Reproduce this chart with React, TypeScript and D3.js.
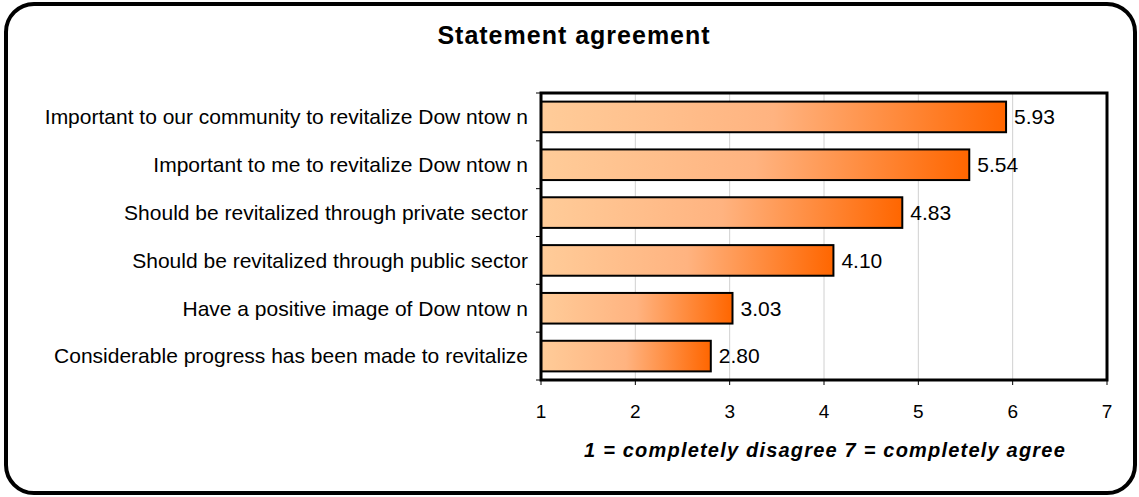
import React from "react";
import * as d3 from "d3";

const categories = [
  "Important to our community to revitalize Dow ntow n",
  "Important to me to revitalize Dow ntow n",
  "Should be revitalized through private sector",
  "Should be revitalized through public sector",
  "Have a positive image of Dow ntow n",
  "Considerable progress has been made to revitalize",
];
const values = [5.93, 5.54, 4.83, 4.1, 3.03, 2.8];
const xTicks = [1, 2, 3, 4, 5, 6, 7];
const title = "Statement agreement";
const xTitle = "1 = completely disagree 7 = completely agree";

export default function App() {
  const W = 1139, H = 497;
  const left = 541, right = 1107, top = 93, bottom = 380;
  const x = d3.scaleLinear().domain([1, 7]).range([left, right]);
  const y = d3.scaleBand().domain(categories).range([top, bottom]).paddingInner(0.36).paddingOuter(0.18);
  const font = "'Liberation Sans', Arial, sans-serif";
  const bandFull = (bottom - top) / categories.length;
  return (
    <svg width={W} height={H} style={{ position: "absolute", left: 0, top: 0 }}>
      <defs>
        <linearGradient id="barGrad" x1="0" x2="1" y1="0" y2="0">
          <stop offset="0%" stopColor="#FFCC99" />
          <stop offset="50%" stopColor="#FFB380" />
          <stop offset="100%" stopColor="#FF6600" />
        </linearGradient>
      </defs>
      <rect width={W} height={H} fill="#fff" />
      <rect x={6} y={4} width={1129} height={489} rx={28} ry={28} fill="#fff" stroke="#000" strokeWidth={4} />
      <text x={574} y={44} textAnchor="middle" fontFamily={font} fontWeight="bold" fontSize={25} letterSpacing={1}>{title}</text>
      {xTicks.map((t) => (
        <line key={"g" + t} x1={x(t)} x2={x(t)} y1={top} y2={bottom} stroke="#d0d0d0" strokeWidth={1} />
      ))}
      {categories.map((c, i) => (
        <line key={"ct" + i} x1={left - 5} x2={left} y1={top + i * bandFull} y2={top + i * bandFull} stroke="#000" strokeWidth={1} />
      ))}
      <line x1={left - 5} x2={left} y1={bottom} y2={bottom} stroke="#000" strokeWidth={1} />
      {xTicks.map((t) => (
        <line key={"xt" + t} x1={x(t)} x2={x(t)} y1={bottom} y2={bottom + 5} stroke="#000" strokeWidth={1} />
      ))}
      {categories.map((c, i) => {
        const yy = y(c)!;
        return (
          <g key={c}>
            <rect x={x(1)} y={yy} width={x(values[i]) - x(1)} height={y.bandwidth()} fill="url(#barGrad)" stroke="#000" strokeWidth={2} />
            <text x={x(values[i]) + 8} y={yy + y.bandwidth() / 2} dy="0.35em" fontFamily={font} fontSize={21}>{values[i].toFixed(2)}</text>
            <text x={left - 13} y={yy + y.bandwidth() / 2} dy="0.35em" textAnchor="end" fontFamily={font} fontSize={21}>{c}</text>
          </g>
        );
      })}
      <rect x={left} y={top} width={right - left} height={bottom - top} fill="none" stroke="#000" strokeWidth={3} />
      {xTicks.map((t) => (
        <text key={"xl" + t} x={x(t)} y={418} textAnchor="middle" fontFamily={font} fontSize={19}>{t}</text>
      ))}
      <text x={825} y={457} textAnchor="middle" fontFamily={font} fontWeight="bold" fontStyle="italic" fontSize={20} letterSpacing={1.2}>{xTitle}</text>
    </svg>
  );
}
